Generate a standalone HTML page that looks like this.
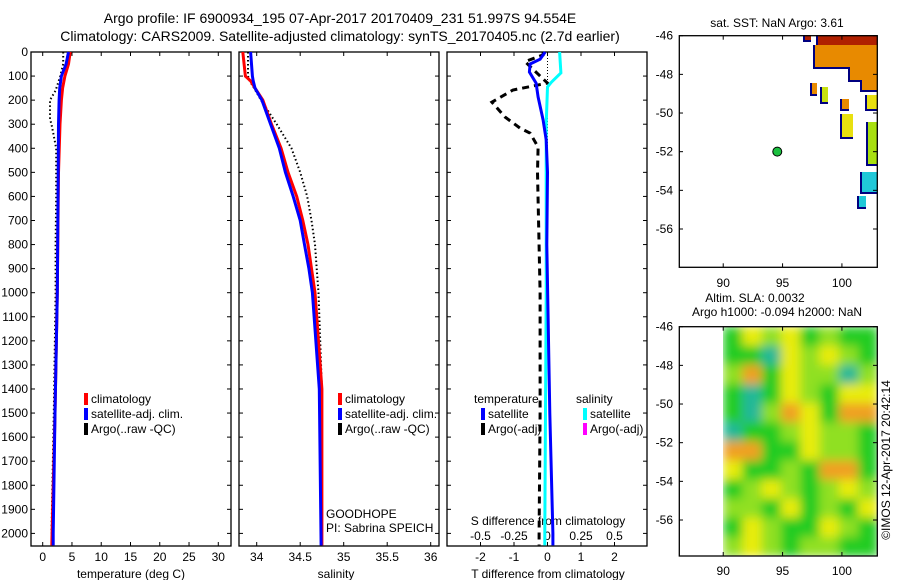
<!DOCTYPE html>
<html><head><meta charset="utf-8"><style>
body{margin:0;background:#fff}
svg{display:block;font-family:"Liberation Sans",sans-serif}
text{font-size:12px;fill:#000}
</style></head><body>
<svg id="chart" width="900" height="580" viewBox="0 0 900 580" xmlns="http://www.w3.org/2000/svg">
<defs>
<filter id="blur" filterUnits="userSpaceOnUse" x="723" y="326.7" width="154.3" height="229.3">
<feGaussianBlur stdDeviation="5" edgeMode="duplicate"/>
</filter>
<clipPath id="fieldclip"><rect x="723" y="326.7" width="154.3" height="229.3"/></clipPath>
</defs>
<rect width="900" height="580" fill="#fff"/>
<text x="340" y="23" text-anchor="middle" style="font-size:14px">Argo profile: IF 6900934_195 07-Apr-2017 20170409_231 51.997S 94.554E</text>
<text x="340" y="41" text-anchor="middle" style="font-size:14px">Climatology: CARS2009. Satellite-adjusted climatology: synTS_20170405.nc (2.7d earlier)</text>
<g id="g"></g>
</svg>
<script>
// ---- data ----
const tDepth  = [0, 50, 100, 150, 200, 300, 500, 1000, 1500, 2000, 2050];
const tClim   = [4.7, 4.4, 3.8, 3.4, 3.2, 2.95, 2.7, 2.5, 2.1, 1.6, 1.55];
const tSat    = [4.4, 4.0, 3.2, 2.9, 2.8, 2.7, 2.65, 2.5, 2.1, 1.8, 1.8];
const aDepth  = [0, 50, 100, 160, 200, 280, 300, 400, 600, 800, 1000, 1500, 2000];
const tArgo   = [3.5, 3.5, 3.0, 2.2, 1.25, 1.25, 1.5, 2.3, 2.3, 2.2, 2.2, 1.9, 1.5];
const sDepth  = [0, 100, 120, 150, 200, 300, 400, 500, 600, 700, 800, 900, 1000, 1400, 2050];
const sClim   = [33.84, 33.87, 33.93, 33.98, 34.07, 34.17, 34.28, 34.36, 34.46, 34.53, 34.59, 34.63, 34.67, 34.75, 34.75];
const sSat    = [33.93, 33.95, 33.96, 33.98, 34.06, 34.16, 34.26, 34.33, 34.42, 34.50, 34.55, 34.60, 34.64, 34.72, 34.74];
const sArgo   = [33.90, 33.90, 33.92, 33.97, 34.05, 34.23, 34.40, 34.50, 34.58, 34.63, 34.67, 34.69, 34.71, 34.75, 34.74];
const dDepth  = [0, 30, 50, 83, 129, 187, 282, 365, 500, 800, 1500, 2000, 2050];
const dTSat   = [-0.07, -0.22, -0.52, -0.54, -0.34, -0.28, -0.13, -0.04, 0, -0.02, 0.07, 0.16, 0.16];
const csDepth = [0, 87, 125, 145, 300, 1000, 2000, 2050];
const dSSat   = [0.09, 0.1, 0.03, 0, -0.01, -0.01, -0.02, -0.02];
const daDepth = [0, 12, 40, 88, 129, 158, 208, 270, 316, 337, 395, 500, 1000, 1500, 2000, 2050];
const dTArgo  = [-0.13, -0.13, -0.67, -0.31, 0, -1.03, -1.66, -1.27, -0.82, -0.52, -0.28, -0.3, -0.22, -0.22, -0.25, -0.25];
const depthTicks = [0,100,200,300,400,500,600,700,800,900,1000,1100,1200,1300,1400,1500,1600,1700,1800,1900,2000];
const tTicks = [0,5,10,15,20,25,30];
const sTicks = [34,34.5,35,35.5,36];
const sTickLabels = ["34","34.5","35","35.5","36"];
const dTTicks = [-2,-1,0,1,2];
const dSTicks = [-0.5,-0.25,0,0.25,0.5];
const dSTickLabels = ["-0.5","-0.25","0","0.25","0.5"];
const latTicks = [-46,-48,-50,-52,-54,-56];
const lonTicks = [90,95,100];
const argoLon = 94.554, argoLat = -51.997;
const slaGrid = [
 [1,3,2,3,1,2,1,1],[1,1,0,3,2,3,2,1],[2,4,1,3,2,2,0,2],[1,0,1,3,2,1,3,3],
 [1,0,2,4,3,1,4,4],[0,1,1,2,3,2,2,1],[4,4,1,1,3,2,2,1],[3,1,1,2,1,4,4,1],
 [1,2,3,2,1,2,3,2],[2,2,1,3,1,2,1,3],[1,3,2,1,1,3,2,1],[2,3,2,1,2,2,1,1]];

// ---- helpers ----
const NS="http://www.w3.org/2000/svg", G=document.getElementById('g');
function mk(tag,attrs,parent){const e=document.createElementNS(NS,tag);for(const k in attrs)e.setAttribute(k,attrs[k]);(parent||G).appendChild(e);return e;}
function txt(s,x,y,anchor,parent,size){const e=mk('text',{x:x,y:y,'text-anchor':anchor||'start'},parent);if(size)e.style.fontSize=size+'px';e.textContent=s;return e;}
const yD = d => 52 + d*0.2407;
const Y0=52, Y1=546;
const xT = v => 42.7 + v*5.853;
const xS = v => 256.7 + (v-34)*87;
const xDT = v => 547.5 + v*33.5;
const xDS = v => 547.5 + v*134;

function frame(x0,x1,name){
  const r=mk('rect',{x:x0,y:Y0,width:x1-x0,height:Y1-Y0,fill:'none',stroke:'#000','stroke-width':1.3});
  
  
  depthTicks.forEach(d=>{
    mk('line',{x1:x0,x2:x0+4,y1:yD(d),y2:yD(d),stroke:'#000'});
    mk('line',{x1:x1,x2:x1-4,y1:yD(d),y2:yD(d),stroke:'#000'});
  });
}
function line(xs,ds,xf,color,w,dash,name){
  const pts=xs.map((v,i)=>xf(v).toFixed(1)+','+yD(ds[i]).toFixed(1)).join(' ');
  const p=mk('polyline',{points:pts,fill:'none',stroke:color,'stroke-width':w});
  if(dash)p.setAttribute('stroke-dasharray',dash);
  
  
}

// ---- panel 1: temperature ----
frame(31,231,'temperature-axes');
depthTicks.forEach(d=>{const t=txt(String(d),28,yD(d)+4,'end');});
tTicks.forEach(v=>{mk('line',{x1:xT(v),x2:xT(v),y1:Y1,y2:Y1-4,stroke:'#000'});mk('line',{x1:xT(v),x2:xT(v),y1:Y0,y2:Y0+4,stroke:'#000'});txt(String(v),xT(v),561,'middle');});
const tt=txt('temperature (deg C)',131,578,'middle');
line(tArgo,aDepth,xT,'#000',2,'1.5,2.5','argo-temperature');
line(tClim,tDepth,xT,'#f00',3,null,'climatology-temperature');
line(tSat,tDepth,xT,'#00f',3,null,'satellite-temperature');

// ---- panel 2: salinity ----
frame(239,439,'salinity-axes');
sTicks.forEach((v,i)=>{mk('line',{x1:xS(v),x2:xS(v),y1:Y1,y2:Y1-4,stroke:'#000'});mk('line',{x1:xS(v),x2:xS(v),y1:Y0,y2:Y0+4,stroke:'#000'});txt(sTickLabels[i],xS(v),561,'middle');});
const st=txt('salinity',336,578,'middle');
line(sArgo,sDepth,xS,'#000',2,'1.5,2.5','argo-salinity');
line(sClim,sDepth,xS,'#f00',3,null,'climatology-salinity');
line(sSat,sDepth,xS,'#00f',3,null,'satellite-salinity');
txt('GOODHOPE',326,518,'start');txt('PI: Sabrina SPEICH',326,532,'start');

function legend(x,y,items,name){
  const g=mk('g',{});
  
  
  items.forEach((it,i)=>{ if(it[1]) mk('rect',{x:x,y:y+i*15-10,width:4,height:12,fill:it[1]},g); txt(it[0],x+(it[1]?7:-7),y+i*15,'start',g);});
}
legend(84,403,[['climatology','#f00'],['satellite-adj. clim.','#00f'],['Argo(..raw -QC)','#000']],'temperature-legend');
legend(338,403,[['climatology','#f00'],['satellite-adj. clim.','#00f'],['Argo(..raw -QC)','#000']],'salinity-legend');

// ---- panel 3: differences ----
frame(447,647,'difference-axes');
dTTicks.forEach(v=>{mk('line',{x1:xDT(v),x2:xDT(v),y1:Y1,y2:Y1-4,stroke:'#000'});mk('line',{x1:xDT(v),x2:xDT(v),y1:Y0,y2:Y0+4,stroke:'#000'});txt(String(v),xDT(v),561,'middle');});
dSTicks.forEach((v,i)=>{txt(dSTickLabels[i],xDS(v),540,'middle');});
txt('S difference from climatology',548,525,'middle');
const dt=txt('T difference from climatology',548,578,'middle');
mk('line',{x1:xDT(0),x2:xDT(0),y1:Y0,y2:yD(400),stroke:'#000','stroke-dasharray':'1,2'});
line(dTArgo,daDepth,xDT,'#000',3,'7,5','argo-temperature-difference');
line(dSSat,csDepth,xDS,'#0ff',3,null,'satellite-salinity-difference');
line(dTSat,dDepth,xDT,'#00f',3,null,'satellite-temperature-difference');
legend(481,403,[['temperature',null],['satellite','#00f'],['Argo(-adj)','#000']],'t-difference-legend');
legend(583,403,[['salinity',null],['satellite','#0ff'],['Argo(-adj)','#f0f']],'s-difference-legend');

// ---- maps ----
const xL = v => 679.3 + (v-86.3)*11.87;
function mapAxes(top,bottom,name,lonY){
  const yL = v => top + (-46-v)*19.33;
  const r=mk('rect',{x:679.3,y:top,width:198,height:bottom-top,fill:'none',stroke:'#000','stroke-width':1.3});
  
  
  latTicks.forEach(v=>{mk('line',{x1:679.3,x2:683,y1:yL(v),y2:yL(v),stroke:'#000'});mk('line',{x1:877.3,x2:873,y1:yL(v),y2:yL(v),stroke:'#000'});txt(String(v),673,yL(v)+4,'end');});
  lonTicks.forEach(v=>{mk('line',{x1:xL(v),x2:xL(v),y1:bottom,y2:bottom-4,stroke:'#000'});mk('line',{x1:xL(v),x2:xL(v),y1:top,y2:top+4,stroke:'#000'});txt(String(v),xL(v),lonY,'middle');});
  return yL;
}
const patches=[[818,35,59,10,'#b02000'],[815,45,62,22,'#e88a00'],[850,67,27,13,'#e88a00'],[862,80,15,10,'#e88a00'],
 [805,35,6,5,'#b02000'],[812,83,5,11,'#e88a00'],[822,87,6,15,'#c8e010'],[842,99,7,10,'#e88a00'],[867,95,10,14,'#e8e010'],
 [842,114,11,23,'#e8e010'],[868,122,9,42,'#a8e010'],[862,172,15,20,'#20c8d8'],[859,196,7,11,'#20c8d8']];
patches.forEach(p=>{mk('rect',{x:p[0]-2,y:p[1],width:p[2]+2,height:p[3]+2,fill:'#000080'});const r=mk('rect',{x:p[0],y:p[1],width:p[2],height:p[3],fill:p[4]});});
const yTop=mapAxes(35.7,267.3,'sst-map',287);
const pt=mk('circle',{cx:xL(argoLon),cy:yTop(argoLat),r:4.5,fill:'#1cc040',stroke:'#000','stroke-width':1});


txt('sat. SST: NaN Argo: 3.61',777,27,'middle');
txt('Altim. SLA: 0.0032',755,302,'middle');
txt('Argo h1000: -0.094 h2000: NaN',777,316,'middle');

// SLA field
const slaColors=['#20b898','#22cc22','#90e020','#e8ec10','#f0a020'];
const fx0=723, fx1=877.3, fy0=326.7, fy1=556;
const cw=(fx1-fx0)/slaGrid[0].length, ch=(fy1-fy0)/slaGrid.length;
const clipG=mk('g',{'clip-path':'url(#fieldclip)'});
const fieldG=mk('g',{filter:'url(#blur)'},clipG);


slaGrid.forEach((row,r)=>row.forEach((v,c)=>{
  const cell=mk('rect',{x:fx0+c*cw,y:fy0+r*ch,width:cw+0.6,height:ch+0.6,fill:slaColors[v]},fieldG);
  
  
}));
mapAxes(326.7,556,'sla-map',575);
const cr=txt('©IMOS 12-Apr-2017 20:42:14',0,0,'middle');
cr.setAttribute('transform','translate(890,460) rotate(-90)');


</script>
</body></html>
